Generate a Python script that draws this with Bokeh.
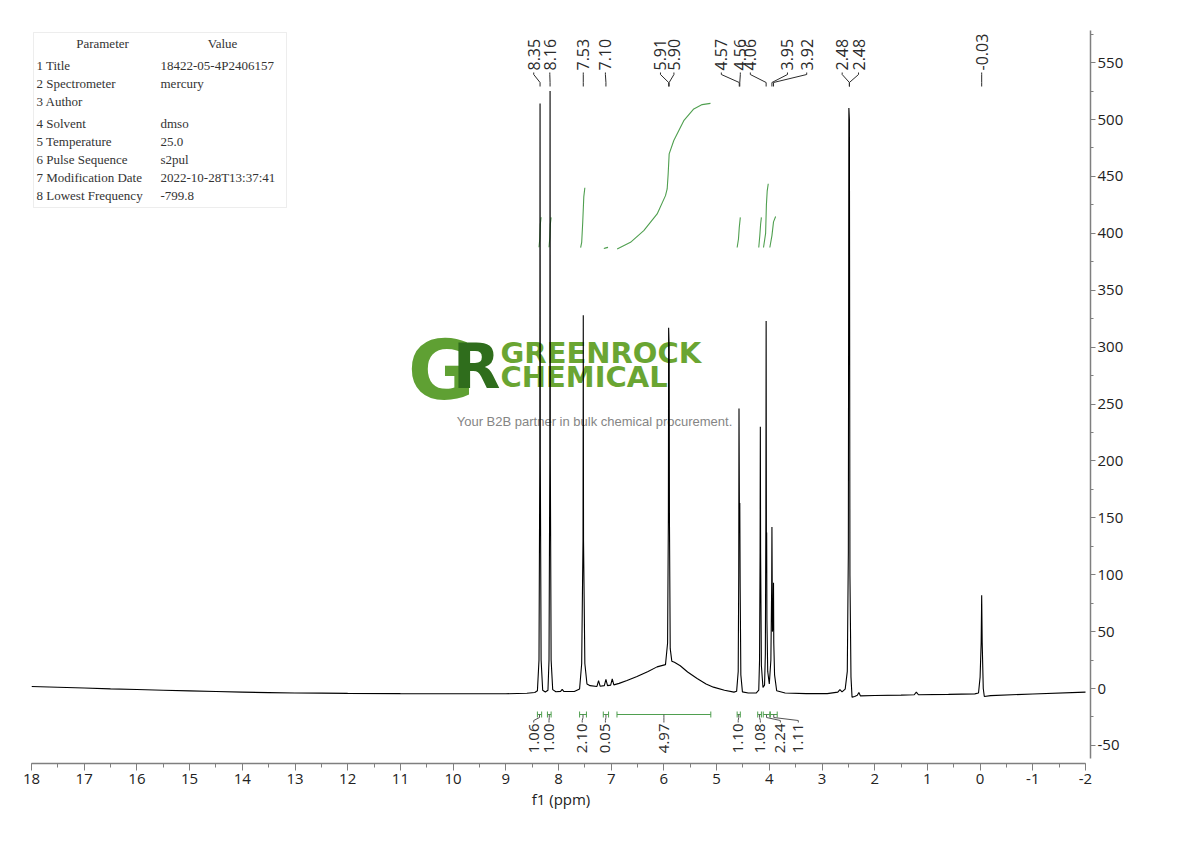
from math import pi
from bokeh.plotting import figure
from bokeh.models import (
    Range1d,
    SingleIntervalTicker,
    BoxAnnotation,
    PrintfTickFormatter,
)
from bokeh.core.properties import value
from bokeh.embed import file_html
from bokeh.resources import INLINE

GREEN = "#4f9f4f"
INK = "#2b2b2b"
AXIS_GREY = "#7f7f7f"

# 1H spectrum trace (ppm, intensity)
shift_ppm = [
    18.00, 17.50, 17.00, 16.50, 16.00, 15.50, 15.00, 14.50, 14.00, 13.50,
    13.00, 12.50, 12.00, 11.00, 10.00, 9.00, 8.60, 8.45,
    8.40, 8.37, 8.355, 8.35, 8.345, 8.33, 8.30, 8.25,
    8.20, 8.18, 8.165, 8.16, 8.155, 8.14, 8.11, 8.05, 7.96, 7.93, 7.90, 7.70,
    7.60, 7.56, 7.535, 7.53, 7.525, 7.50, 7.46, 7.40,
    7.27, 7.24, 7.21, 7.13, 7.10, 7.07, 7.01, 6.98, 6.95,
    6.85, 6.70, 6.51, 6.30, 6.13, 5.97,
    5.93, 5.915, 5.91, 5.90, 5.895, 5.88, 5.85, 5.80, 5.69, 5.55, 5.37, 5.20,
    5.06, 4.85, 4.67, 4.62,
    4.59, 4.58, 4.575, 4.567, 4.56, 4.553, 4.54, 4.51, 4.40, 4.25,
    4.20, 4.185, 4.175, 4.17, 4.165, 4.15, 4.12,
    4.09, 4.075, 4.065, 4.06, 4.055, 4.05, 4.045, 4.03, 4.00,
    3.97, 3.955, 3.95, 3.94, 3.925, 3.92, 3.915, 3.90, 3.86, 3.70, 3.30,
    2.90, 2.70, 2.66, 2.62, 2.56,
    2.52, 2.50, 2.49, 2.48, 2.47, 2.45, 2.43, 2.38, 2.33, 2.30, 2.27,
    2.00, 1.50, 1.25, 1.21, 1.17, 0.60, 0.10, 0.03,
    0.00, -0.02, -0.03, -0.04, -0.06, -0.08, -0.20, -1.00, -2.00,
]
intensity = [
    1.8, 1.1, 0.4, -0.3, -0.9, -1.5, -2.1, -2.7, -3.2, -3.6,
    -3.9, -4.1, -4.3, -4.5, -4.6, -4.6, -4.2, -3.5,
    -2.0, 25, 200, 514, 200, 25, -1.5, -3.0,
    -1.5, 25, 200, 525, 200, 25, -1.0, -2.8, -2.5, -0.8, -2.6, -2.6,
    -0.5, 22, 130, 328, 130, 22, 4, 2.5,
    1.8, 7, 2.0, 2.5, 8, 2.5, 3.0, 8.5, 3.2,
    4.5, 7, 10.5, 15, 19, 21,
    40, 150, 317, 300, 150, 35, 24, 23, 20, 14.5, 8.8, 4,
    1.2, -1.5, -3.2, -2.5,
    15, 100, 246, 150, 163, 90, 12, -3, -4, -4,
    -1.5, 25, 120, 230, 120, 20, 1,
    3, 30, 150, 323, 130, 137, 60, 15, 4,
    25, 90, 142, 50, 60, 93, 40, 12, -2, -4, -4.5,
    -4.5, -3.2, -1.0, -3.0, -0.5,
    15, 120, 510, 500, 100, 10, -7.6, -7.0, -6.0, -3.5, -6.5,
    -6.2, -5.8, -5.5, -3.2, -5.5, -5.2, -4.7, -4.0,
    10, 40, 82, 40, 0, -7.0, -6.3, -4.8, -3.2,
]

# integral curves (green) drawn above the peaks
integral_curve_ppm = [
    [8.37, 8.355, 8.345, 8.33],
    [8.18, 8.165, 8.155, 8.14],
    [7.58, 7.56, 7.54, 7.52, 7.50],
    [7.14, 7.10, 7.06],
    [6.887, 6.634, 6.382, 6.128, 5.970, 5.938, 5.919, 5.900, 5.812, 5.623,
     5.433, 5.274, 5.116],
    [4.61, 4.585, 4.57, 4.55],
    [4.20, 4.18, 4.165, 4.15],
    [4.11, 4.07, 4.055, 4.04, 4.02],
    [3.99, 3.95, 3.92, 3.88],
]
integral_curve_val = [
    [387.7, 395, 408, 414.1],
    [387.7, 396, 408, 414],
    [387.5, 392, 410, 432, 440],
    [386.6, 387.2, 387.6],
    [386.3, 392.1, 402.4, 417.0, 433.1, 439.0, 452.2, 469.8, 481.5, 499.0,
     509.3, 513.1, 514.2],
    [387.5, 395, 405, 414],
    [387.5, 398, 408, 414],
    [387.5, 400, 425, 437, 443.5],
    [387.5, 398, 410, 414.7],
]

# integration regions and their values
integral_values = ["1.06", "1.00", "2.10", "0.05", "4.97", "1.10", "1.08", "2.24", "1.11"]
integral_from = [8.40, 8.21, 7.60, 7.15, 6.89, 4.61, 4.22, 4.115, 3.98]
integral_to = [8.32, 8.14, 7.47, 7.05, 5.11, 4.55, 4.15, 3.99, 3.85]
integral_label_at = [8.47, 8.18, 7.55, 7.11, 6.00, 4.59, 4.17, 3.79, 3.45]

# peak picking labels
peak_labels = ["8.35", "8.16", "7.53", "7.10", "5.91", "5.90", "4.57", "4.56",
               "4.06", "3.95", "3.92", "2.48", "2.48", "-0.03"]
peak_shift = [8.35, 8.16, 7.53, 7.10, 5.91, 5.90, 4.57, 4.56,
              4.06, 3.95, 3.92, 2.48, 2.48, -0.03]
peak_label_at = [8.47, 8.165, 7.53, 7.11, 6.065, 5.81, 4.91, 4.55,
                 4.36, 3.655, 3.29, 2.617, 2.307, -0.03]

param_names = ["1 Title", "2 Spectrometer", "3 Author", "4 Solvent", "5 Temperature",
               "6 Pulse Sequence", "7 Modification Date", "8 Lowest Frequency"]
param_values = ["18422-05-4P2406157", "mercury", "", "dmso", "25.0",
                "s2pul", "2022-10-28T13:37:41", "-799.8"]
param_rows_px = [65, 83, 101, 123, 141, 159, 177, 195]


# the reference is 52.7 px per ppm, 1.138 px per intensity unit
def px_x(px):
    return 18 - (px - 31) / 52.7


def px_y(py):
    return (688 - py) / 1.138


p = figure(
    width=1152,
    height=833,
    x_range=Range1d(18, px_x(1090)),
    y_range=Range1d(px_y(763), px_y(30)),
    y_axis_location="right",
    output_backend="svg",
    toolbar_location=None,
    tools="",
    min_border_left=31,
    min_border_top=30,
    min_border_right=62,
    min_border_bottom=70,
)
p.outline_line_color = None
p.xgrid.visible = False
p.ygrid.visible = False

# watermark, below the spectrum
p.text(x=[px_x(441)], y=[px_y(370)], text=["G"], text_font=value("DejaVu Sans"),
       text_font_style="bold", text_font_size="82px", text_color="#5fa033",
       text_align="center", text_baseline="middle")
p.text(x=[px_x(476)], y=[px_y(366)], text=["R"], text_font=value("DejaVu Sans"),
       text_font_style="bold", text_font_size="62px", text_color="#2f6d1c",
       text_align="center", text_baseline="middle")
p.text(x=[px_x(500), px_x(500)], y=[px_y(352), px_y(376)], text=["GREENROCK", "CHEMICAL"],
       text_font=value("DejaVu Sans"), text_font_style="bold", text_font_size="29px",
       text_color="#6aa532", text_align="left", text_baseline="middle")
p.text(x=[px_x(594)], y=[px_y(421)], text=["Your B2B partner in bulk chemical procurement."],
       text_font=value("Liberation Sans"), text_font_size="13px", text_color="#858585",
       text_align="center", text_baseline="middle")

# parameter table
p.add_layout(BoxAnnotation(left=px_x(33), right=px_x(286), top=px_y(32), bottom=px_y(207),
                           fill_color="white", fill_alpha=1, line_color="#c4c4c4",
                           line_width=1, level="underlay"))
table_font = dict(text_font=value("Liberation Serif"), text_font_size="13px",
                  text_color="#333333", text_baseline="middle")
p.text(x=[px_x(102), px_x(222)], y=[px_y(43), px_y(43)], text=["Parameter", "Value"],
       text_align="center", **table_font)
p.text(x=[px_x(36)] * len(param_names), y=[px_y(v) for v in param_rows_px],
       text=param_names, text_align="left", **table_font)
p.text(x=[px_x(160)] * len(param_values), y=[px_y(v) for v in param_rows_px],
       text=param_values, text_align="left", **table_font)

# integral curves and the spectrum
p.multi_line(xs=integral_curve_ppm, ys=integral_curve_val, line_color=GREEN, line_width=1.1)
p.line(x=shift_ppm, y=intensity, line_color="black", line_width=1.1)

# peak labels on top
conn_x, conn_y = [], []
for lab_x, pk in zip(peak_label_at, peak_shift):
    conn_x.append([lab_x, lab_x, pk, pk])
    conn_y.append([px_y(72), px_y(74), px_y(82), px_y(86)])
p.multi_line(xs=conn_x, ys=conn_y, line_color=INK, line_width=1)
p.text(x=peak_label_at, y=[px_y(70)] * len(peak_labels), text=peak_labels, angle=pi / 2,
       text_font=value("Open Sans"), text_font_size="16px", text_color=INK,
       text_align="left", text_baseline="middle")

# integration brackets and values below
br_x, br_y, lead_x, lead_y = [], [], [], []
for a, b, lab_x in zip(integral_from, integral_to, integral_label_at):
    br_x += [[a, b], [a, a], [b, b]]
    br_y += [[px_y(714), px_y(714)], [px_y(711), px_y(717)], [px_y(711), px_y(717)]]
    mid = (a + b) / 2
    lead_x.append([mid, mid, lab_x, lab_x])
    lead_y.append([px_y(714), px_y(717), px_y(720), px_y(722)])
p.multi_line(xs=br_x, ys=br_y, line_color=GREEN, line_width=1)
p.multi_line(xs=lead_x, ys=lead_y, line_color="#555555", line_width=1)
p.text(x=integral_label_at, y=[px_y(723)] * len(integral_values), text=integral_values,
       angle=pi / 2, text_font=value("Open Sans"), text_font_size="15px", text_color=INK,
       text_align="right", text_baseline="middle")

# axes
p.xaxis.ticker = SingleIntervalTicker(interval=1, num_minor_ticks=2)
p.xaxis.bounds = (-2, 18)
p.xaxis.axis_label = "f1 (ppm)"
p.xaxis.axis_label_standoff = 2
p.xaxis.major_tick_out = 7
p.xaxis.minor_tick_out = 4
p.xaxis.major_label_standoff = 3

p.yaxis.ticker = SingleIntervalTicker(interval=50, num_minor_ticks=2)
p.yaxis.bounds = (px_y(758), px_y(30))
p.yaxis.major_tick_out = 5
p.yaxis.minor_tick_out = 3
p.yaxis.major_label_standoff = 2

for ax in (p.xaxis, p.yaxis):
    ax.formatter = PrintfTickFormatter(format="%d")
    ax.axis_line_color = AXIS_GREY
    ax.axis_line_width = 1.5
    ax.major_tick_line_color = AXIS_GREY
    ax.minor_tick_line_color = AXIS_GREY
    ax.major_tick_in = 0
    ax.minor_tick_in = 0
    ax.major_label_text_font = "Open Sans"
    ax.major_label_text_font_size = "15px"
    ax.major_label_text_color = "#222222"
    ax.axis_label_text_font = "Open Sans"
    ax.axis_label_text_font_size = "15px"
    ax.axis_label_text_font_style = "normal"
    ax.axis_label_text_color = "#222222"

open("out.html", "w").write(file_html(p, INLINE))
